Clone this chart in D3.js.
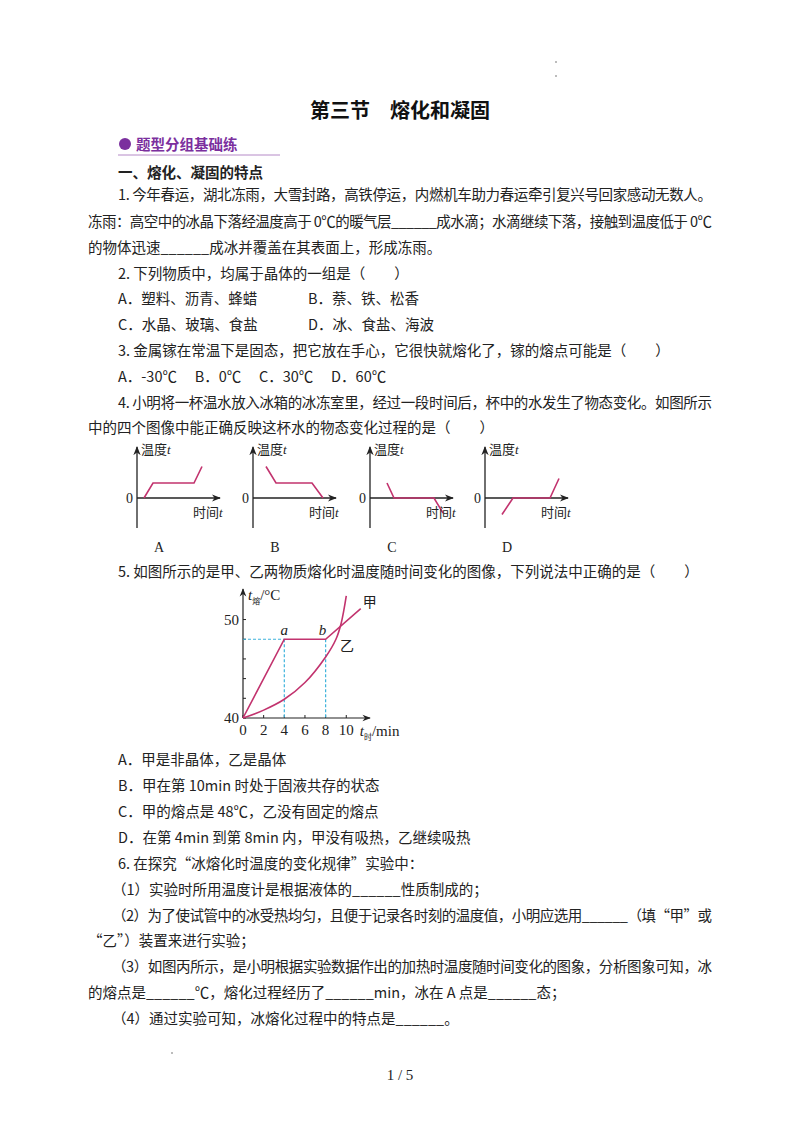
<!DOCTYPE html>
<html><head><meta charset="utf-8">
<script src="https://cdn.jsdelivr.net/npm/d3@7"></script>
<style>body{margin:0;background:#fff}svg{display:block}</style>
</head><body><div id="root"></div>
<script>
// DATA
let smallLabels = ['A', 'B', 'C', 'D'];
let smallSeries = [
  [[0, 0], [0.9, 1], [5, 1], [5.8, 2.1]],
  [[0.6, 2.1], [1.6, 1], [5.2, 1], [6.3, 0]],
  [[1, 1], [1.7, 0], [5.7, 0], [6.6, -1]],
  [[1, -1.1], [2.1, 0], [5.8, 0], [6.7, 1.3]]
];
let jiaData = [[0, 40], [4, 48], [8, 48], [11.4, 51.1]];
let yiData = [[0, 40], [2, 40.8], [4, 41.9], [6, 43.6], [8, 46.2], [9, 48], [9.5, 49.6], [10, 52.4]];
let xTicks = [0, 2, 4, 6, 8, 10];
let yTicks = [40, 42, 44, 46, 48, 50];
let yTickLabels = {40: '40', 50: '50'};

let width = 800, height = 1132;
let ink = '#222', curve = '#c2336e', dash = '#3fb3dc';
let font = '"Noto Sans CJK SC", "Noto Sans", sans-serif';

let svg = d3.select('#root').append('svg').attr('width', width).attr('height', height);

// text lines: [text, x, y, justify]
let lines = [
  ['1. 今年春运，湖北冻雨，大雪封路，高铁停运，内燃机车助力春运牵引复兴号回家感动无数人。', 118, 200, 712],
  ['冻雨：高空中的冰晶下落经温度高于 0℃的暖气层______成水滴；水滴继续下落，接触到温度低于 0℃', 88, 227, 712],
  ['的物体迅速______成冰并覆盖在其表面上，形成冻雨。', 88, 253],
  ['2. 下列物质中，均属于晶体的一组是（　　）', 118, 279],
  ['A．塑料、沥青、蜂蜡', 118, 304], ['B．萘、铁、松香', 308, 304],
  ['C．水晶、玻璃、食盐', 118, 330], ['D．冰、食盐、海波', 308, 330],
  ['3. 金属镓在常温下是固态，把它放在手心，它很快就熔化了，镓的熔点可能是（　　）', 118, 356],
  ['A．-30℃　 B．0℃　 C．30℃　 D．60℃', 118, 382],
  ['4. 小明将一杯温水放入冰箱的冰冻室里，经过一段时间后，杯中的水发生了物态变化。如图所示', 118, 408, 712],
  ['中的四个图像中能正确反映这杯水的物态变化过程的是（　　）', 88, 433],
  ['5. 如图所示的是甲、乙两物质熔化时温度随时间变化的图像，下列说法中正确的是（　　）', 118, 577],
  ['A．甲是非晶体，乙是晶体', 118, 765],
  ['B．甲在第 10min 时处于固液共存的状态', 118, 791],
  ['C．甲的熔点是 48℃，乙没有固定的熔点', 118, 817],
  ['D．在第 4min 到第 8min 内，甲没有吸热，乙继续吸热', 118, 843],
  ['6. 在探究“冰熔化时温度的变化规律”实验中：', 118, 869],
  ['（1）实验时所用温度计是根据液体的______性质制成的；', 112, 895],
  ['（2）为了使试管中的冰受热均匀，且便于记录各时刻的温度值，小明应选用______（填“甲”或', 112, 921, 712],
  ['“乙”）装置来进行实验；', 88, 946],
  ['（3）如图丙所示，是小明根据实验数据作出的加热时温度随时间变化的图象，分析图象可知，冰', 112, 972, 712],
  ['的熔点是______℃，熔化过程经历了______min，冰在 A 点是______态；', 88, 998],
  ['（4）通过实验可知，冰熔化过程中的特点是______。', 112, 1024]
];
lines.forEach(l => {
  let t = svg.append('text').attr('x', l[1]).attr('y', l[2])
    .style('font-family', font).style('font-size', '14.5px').style('fill', ink).text(l[0]);
  if (l[3]) t.attr('textLength', l[3] - l[1]).attr('lengthAdjust', 'spacing');
});

svg.append('text').attr('x', 400).attr('y', 118).attr('text-anchor', 'middle')
  .style('font-family', font).style('font-size', '20px').style('font-weight', 'bold')
  .style('fill', '#111').text('第三节　熔化和凝固');
svg.append('circle').attr('cx', 125).attr('cy', 144).attr('r', 6).attr('fill', '#7b2f9e');
svg.append('text').attr('x', 136).attr('y', 150).style('font-family', font).style('font-size', '14.5px')
  .style('font-weight', 'bold').style('fill', '#7b2f9e').text('题型分组基础练');
svg.append('line').attr('x1', 118).attr('x2', 280).attr('y1', 155).attr('y2', 155)
  .attr('stroke', '#b58ac7').attr('stroke-width', 1);
svg.append('text').attr('x', 118).attr('y', 178).style('font-family', font).style('font-size', '14.5px')
  .style('font-weight', 'bold').style('fill', ink).text('一、熔化、凝固的特点');
svg.append('text').attr('x', 400).attr('y', 1080).attr('text-anchor', 'middle')
  .style('font-family', '"Liberation Serif", serif').style('font-size', '15px').style('fill', ink).text('1  /  5');
[[556, 62], [556, 76], [172, 1053]].forEach(p => svg.append('circle').attr('cx', p[0]).attr('cy', p[1]).attr('r', 0.8).attr('fill', '#666'));

// arrow marker
svg.append('defs').append('marker').attr('id', 'arr').attr('viewBox', '0 0 10 10')
  .attr('refX', 9).attr('refY', 5).attr('markerWidth', 7).attr('markerHeight', 7).attr('orient', 'auto')
  .append('path').attr('d', 'M0,1 L10,5 L0,9 L3,5 Z').attr('fill', ink);

// SMALL CHARTS
let origins = [144, 260, 377, 492];
smallSeries.forEach((data, i) => {
  let ox = origins[i], oy = 498;
  let x = d3.scaleLinear().domain([0, 1]).range([ox, ox + 10]);
  let y = d3.scaleLinear().domain([0, 1]).range([oy, oy - 15]);
  let g = svg.append('g');
  g.append('line').attr('x1', x(-0.7)).attr('x2', x(-0.7)).attr('y1', y(-2)).attr('y2', y(3.4))
    .attr('stroke', ink).attr('stroke-width', 1.3).attr('marker-end', 'url(#arr)');
  g.append('line').attr('x1', x(-0.7)).attr('x2', x(7.6)).attr('y1', y(0)).attr('y2', y(0))
    .attr('stroke', ink).attr('stroke-width', 1.3).attr('marker-end', 'url(#arr)');
  g.append('path').attr('d', d3.line().x(d => x(d[0])).y(d => y(d[1]))(data))
    .attr('fill', 'none').attr('stroke', curve).attr('stroke-width', 1.6);
  let tx = g.append('text').attr('x', x(-0.3)).attr('y', y(2.95)).style('font-family', font).style('font-size', '13px').style('fill', ink);
  tx.append('tspan').text('温度');
  tx.append('tspan').style('font-style', 'italic').style('font-family', '"Liberation Serif", serif').text('t');
  g.append('text').attr('x', x(-1.1)).attr('y', y(-0.3)).attr('text-anchor', 'end')
    .style('font-family', '"Liberation Serif", serif').style('font-size', '14px').style('fill', ink).text('0');
  let tt = g.append('text').attr('x', x(4.9)).attr('y', y(-1.25)).style('font-family', font).style('font-size', '13px').style('fill', ink);
  tt.append('tspan').text('时间');
  tt.append('tspan').style('font-style', 'italic').style('font-family', '"Liberation Serif", serif').text('t');
  g.append('text').attr('x', x(1.5)).attr('y', 552).attr('text-anchor', 'middle')
    .style('font-family', '"Liberation Serif", serif').style('font-size', '14px').style('fill', ink).text(smallLabels[i]);
});

// MAIN CHART
let xs = d3.scaleLinear().domain([0, 12.2]).range([243, 369]);
let ys = d3.scaleLinear().domain([40, 53]).range([718, 590]);
let mg = svg.append('g');
let serif = '"Liberation Serif", serif';
mg.append('line').attr('x1', xs(0)).attr('x2', xs(12.3)).attr('y1', ys(40)).attr('y2', ys(40))
  .attr('stroke', ink).attr('stroke-width', 1.2).attr('marker-end', 'url(#arr)');
mg.append('line').attr('x1', xs(0)).attr('x2', xs(0)).attr('y1', ys(40)).attr('y2', ys(53.1))
  .attr('stroke', ink).attr('stroke-width', 1.2).attr('marker-end', 'url(#arr)');
xTicks.forEach(v => {
  mg.append('line').attr('x1', xs(v)).attr('x2', xs(v)).attr('y1', ys(40)).attr('y2', ys(40) - 3).attr('stroke', ink);
  mg.append('text').attr('x', xs(v)).attr('y', ys(40) + 17).attr('text-anchor', 'middle')
    .style('font-family', serif).style('font-size', '15px').style('fill', ink).text(v);
});
yTicks.forEach(v => {
  mg.append('line').attr('x1', xs(0)).attr('x2', xs(0) + 3).attr('y1', ys(v)).attr('y2', ys(v)).attr('stroke', ink);
  if (yTickLabels[v]) mg.append('text').attr('x', xs(0) - 4).attr('y', ys(v) + 5).attr('text-anchor', 'end')
    .style('font-family', serif).style('font-size', '15px').style('fill', ink).text(yTickLabels[v]);
});
// dashed guides
[[4, 48], [8, 48]].forEach(p => {
  mg.append('line').attr('x1', xs(p[0])).attr('x2', xs(p[0])).attr('y1', ys(p[1])).attr('y2', ys(40))
    .attr('stroke', dash).attr('stroke-width', 1.2).attr('stroke-dasharray', '3,2');
});
mg.append('line').attr('x1', xs(0)).attr('x2', xs(4)).attr('y1', ys(48)).attr('y2', ys(48))
  .attr('stroke', dash).attr('stroke-width', 1.2).attr('stroke-dasharray', '3,2');
mg.append('path').attr('d', d3.line().x(d => xs(d[0])).y(d => ys(d[1]))(jiaData))
  .attr('fill', 'none').attr('stroke', curve).attr('stroke-width', 1.6);
mg.append('path').attr('d', d3.line().curve(d3.curveCatmullRom).x(d => xs(d[0])).y(d => ys(d[1]))(yiData))
  .attr('fill', 'none').attr('stroke', curve).attr('stroke-width', 1.6);
// labels
let yl = mg.append('text').attr('x', xs(0) + 5).attr('y', ys(52)).style('font-family', serif).style('font-size', '15px').style('fill', ink);
yl.append('tspan').style('font-style', 'italic').text('t');
yl.append('tspan').attr('dy', 4).style('font-size', '8px').style('font-family', font).text('熔');
yl.append('tspan').attr('dy', -4).text('/°C');
let xl = mg.append('text').attr('x', xs(11.3)).attr('y', ys(40) + 18).style('font-family', serif).style('font-size', '15px').style('fill', ink);
xl.append('tspan').style('font-style', 'italic').text('t');
xl.append('tspan').attr('dy', 4).style('font-size', '8px').style('font-family', font).text('时');
xl.append('tspan').attr('dy', -4).text('/min');
mg.append('text').attr('x', xs(4)).attr('y', ys(48) - 4).attr('text-anchor', 'middle')
  .style('font-family', serif).style('font-style', 'italic').style('font-size', '15px').style('fill', ink).text('a');
mg.append('text').attr('x', xs(7.7)).attr('y', ys(48) - 4).attr('text-anchor', 'middle')
  .style('font-family', serif).style('font-style', 'italic').style('font-size', '15px').style('fill', ink).text('b');
mg.append('text').attr('x', xs(11.6)).attr('y', ys(51.3)).style('font-family', font).style('font-size', '14px').style('fill', ink).text('甲');
mg.append('text').attr('x', xs(9.4)).attr('y', ys(46.8)).style('font-family', font).style('font-size', '14px').style('fill', ink).text('乙');
</script>
</body></html>
